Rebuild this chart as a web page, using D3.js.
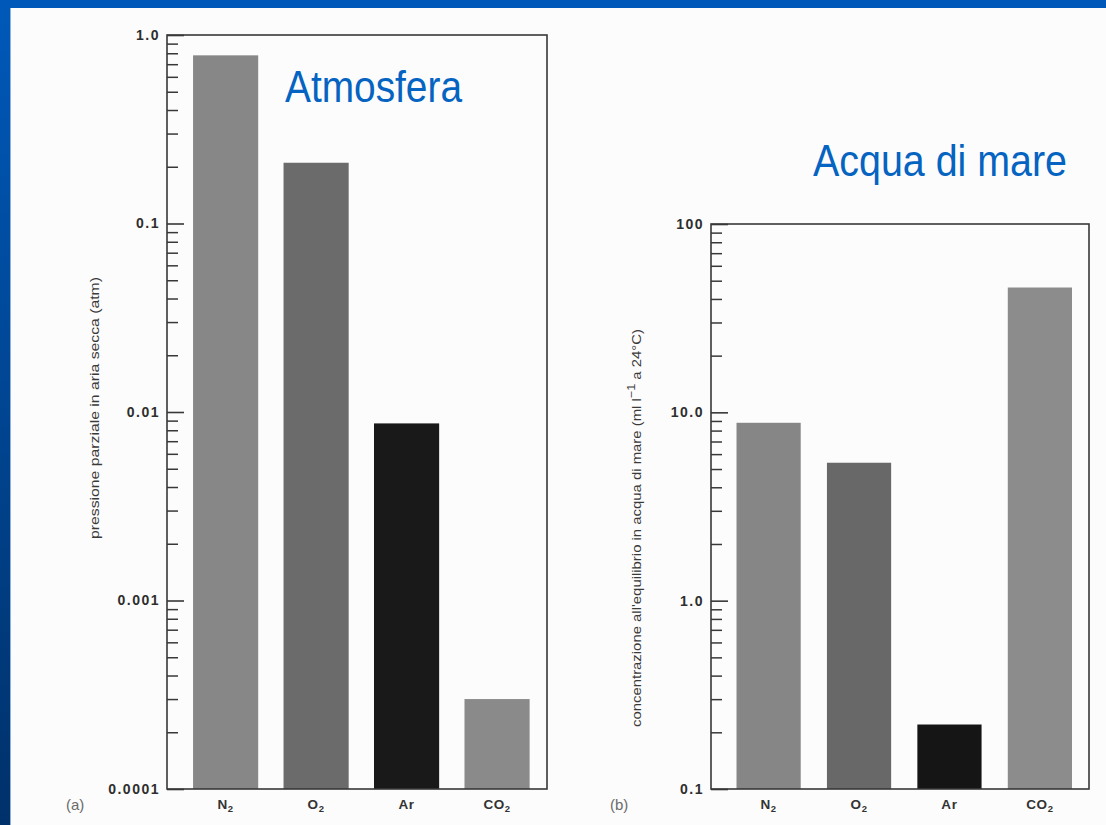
<!DOCTYPE html>
<html><head><meta charset="utf-8">
<script src="https://cdn.jsdelivr.net/npm/d3@7"></script>
<style>body{margin:0;background:#fff}svg{display:block}</style>
</head><body><svg id="c" width="1106" height="825"></svg>
<script>
// ---- data ----
const gasBase = ["N", "O", "Ar", "CO"];
const gasSub = ["2", "2", "", "2"];
const gases = ["N2", "O2", "Ar", "CO2"];
const atmValues = [0.78, 0.21, 0.0087, 0.0003];      // partial pressure (atm)
const seaValues = [8.8, 5.4, 0.22, 46];              // ml l-1 at 24°C
const atmTicks = [1, 0.1, 0.01, 0.001, 0.0001];
const atmTickLabels = ["1.0", "0.1", "0.01", "0.001", "0.0001"];
const seaTicks = [100, 10, 1, 0.1];
const seaTickLabels = ["100", "10.0", "1.0", "0.1"];
const atmColors = ["#878787", "#6b6b6b", "#191919", "#8a8a8a"];
const seaColors = ["#868686", "#686868", "#151515", "#8c8c8c"];

const svg = d3.select("#c");
const W = 1106, H = 825;

// ---- slide background ----
const defs = svg.append("defs");
const lg = defs.append("linearGradient").attr("id", "lb").attr("x1", 0).attr("y1", 0).attr("x2", 0).attr("y2", 1);
lg.append("stop").attr("offset", "0%").attr("stop-color", "#0059b9");
lg.append("stop").attr("offset", "100%").attr("stop-color", "#00316a");
svg.append("rect").attr("width", W).attr("height", H).attr("fill", "#fcfcfc");
svg.append("rect").attr("x", 0).attr("y", 0).attr("width", 10).attr("height", H).attr("fill", "url(#lb)");
svg.append("rect").attr("x", 0).attr("y", 0).attr("width", W).attr("height", 8).attr("fill", "#0059b9");
svg.append("line").attr("x1", 10.5).attr("x2", 10.5).attr("y1", 8).attr("y2", H).attr("stroke", "#8fb2dc").attr("stroke-width", 1);

const axisColor = "#383838";

function panel(opt) {
  const y = d3.scaleLog().domain(opt.domain).range([opt.yBot, opt.yTop]);
  const x = d3.scaleBand().domain(gases).range([opt.x0, opt.x1])
    .paddingInner(opt.pi).paddingOuter(opt.po).align(opt.align);
  const g = svg.append("g");

  // bars
  g.selectAll("rect.bar").data(opt.values).join("rect").attr("class", "bar")
    .attr("x", (d, i) => x(gases[i]))
    .attr("width", x.bandwidth())
    .attr("y", d => y(d))
    .attr("height", d => opt.yBot - y(d))
    .attr("fill", (d, i) => opt.colors[i]);

  // minor ticks
  const minor = y.ticks().filter(v => Math.abs(Math.log10(v) - Math.round(Math.log10(v))) > 1e-6);
  const gMinor = g.append("g").attr("transform", `translate(${opt.x0},0)`)
    .call(d3.axisLeft(y).tickValues(minor).tickSize(-11).tickFormat(""));
  gMinor.select(".domain").remove();
  gMinor.selectAll("line").attr("stroke", axisColor).attr("stroke-width", 1.5);

  // major ticks with labels
  const gMaj = g.append("g").attr("transform", `translate(${opt.x0},0)`)
    .call(d3.axisLeft(y).tickValues(opt.ticks).tickSize(-17).tickPadding(7)
      .tickFormat((d, i) => opt.tickLabels[i]));
  gMaj.select(".domain").remove();
  gMaj.selectAll("line").attr("stroke", axisColor).attr("stroke-width", 1.6);
  gMaj.selectAll("text").attr("font-family", "'Liberation Sans', Arial, sans-serif")
    .attr("font-weight", "bold").attr("font-size", 14).attr("fill", "#2e2e2e")
    .attr("letter-spacing", 1.5);

  // frame
  g.append("rect").attr("x", opt.x0).attr("y", opt.yTop)
    .attr("width", opt.x1 - opt.x0).attr("height", opt.yBot - opt.yTop)
    .attr("fill", "none").attr("stroke", axisColor).attr("stroke-width", 1.6);

  // category labels
  const lab = g.selectAll("text.cat").data(gases).join("text").attr("class", "cat")
    .attr("x", d => x(d) + x.bandwidth() / 2)
    .attr("y", opt.yBot + 20)
    .attr("text-anchor", "middle")
    .attr("font-family", "'Liberation Sans', Arial, sans-serif")
    .attr("font-weight", "bold").attr("font-size", 13.5).attr("fill", "#333")
    .attr("letter-spacing", 0.6);
  lab.append("tspan").text((d, i) => gasBase[i]);
  lab.append("tspan").attr("font-size", 9.5).attr("dy", 3).text((d, i) => gasSub[i]);

  // panel letter
  g.append("text").attr("x", opt.letterX).attr("y", opt.yBot + 21)
    .attr("font-family", "'Liberation Sans', Arial, sans-serif")
    .attr("font-size", 15).attr("fill", "#6a6a6a").text(opt.letter);

  return {x, y, g};
}

panel({domain: [0.0001, 1], yTop: 35, yBot: 789, x0: 167, x1: 547,
  pi: 0.28, po: 0.24, align: 0.6, values: atmValues, colors: atmColors,
  ticks: atmTicks, tickLabels: atmTickLabels, letter: "(a)", letterX: 66});

panel({domain: [0.1, 100], yTop: 224, yBot: 789, x0: 711, x1: 1089,
  pi: 0.29, po: 0.235, align: 0.6, values: seaValues, colors: seaColors,
  ticks: seaTicks, tickLabels: seaTickLabels, letter: "(b)", letterX: 610});

// y-axis titles
svg.append("text").attr("transform", "translate(99,408) rotate(-90)")
  .attr("text-anchor", "middle").attr("font-family", "'Liberation Sans', Arial, sans-serif")
  .attr("font-size", 13).attr("fill", "#3a3a3a")
  .attr("textLength", 262).attr("lengthAdjust", "spacingAndGlyphs")
  .text("pressione parziale in aria secca (atm)");

const rt = svg.append("text").attr("transform", "translate(641,528) rotate(-90)")
  .attr("text-anchor", "middle").attr("font-family", "'Liberation Sans', Arial, sans-serif")
  .attr("font-size", 13).attr("fill", "#3a3a3a")
  .attr("textLength", 398).attr("lengthAdjust", "spacingAndGlyphs");
rt.append("tspan").text("concentrazione all'equilibrio in acqua di mare (ml l");
rt.append("tspan").attr("font-size", 11).attr("dy", -6).text("\u22121");
rt.append("tspan").attr("dy", 6).text(" a 24\u00B0C)");

// titles
svg.append("text").attr("x", 285).attr("y", 102)
  .attr("font-family", "'Liberation Sans', Arial, sans-serif").attr("font-size", 44)
  .attr("fill", "#0563c1").attr("textLength", 177).attr("lengthAdjust", "spacingAndGlyphs")
  .text("Atmosfera");
svg.append("text").attr("x", 813).attr("y", 176)
  .attr("font-family", "'Liberation Sans', Arial, sans-serif").attr("font-size", 44)
  .attr("fill", "#0563c1").attr("textLength", 254).attr("lengthAdjust", "spacingAndGlyphs")
  .text("Acqua di mare");
</script></body></html>
